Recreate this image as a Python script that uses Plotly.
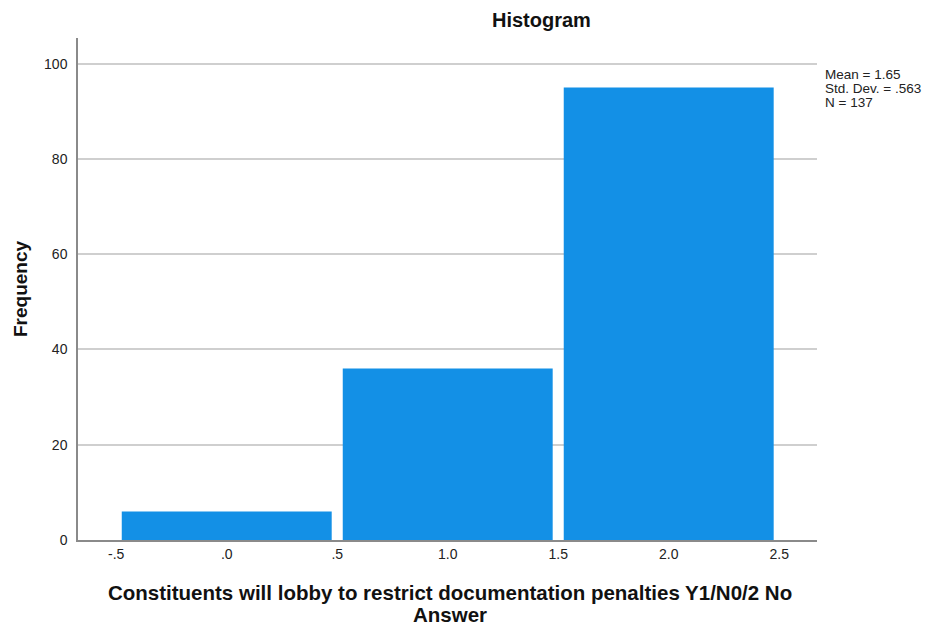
import plotly.graph_objects as go

# Response codes and their frequencies
categories = [0, 1, 2]
counts = [6, 36, 95]
x_tick_vals = [-0.5, 0.0, 0.5, 1.0, 1.5, 2.0, 2.5]
x_tick_text = ["-.5", ".0", ".5", "1.0", "1.5", "2.0", "2.5"]
y_tick_vals = [0, 20, 40, 60, 80, 100]
stats_lines = ["Mean = 1.65", "Std. Dev. = .563", "N = 137"]
x_title_lines = [
    "Constituents will lobby to restrict documentation penalties Y1/N0/2 No",
    "Answer",
]

FONT = "Liberation Sans, Arial, sans-serif"
W, H = 929, 626
L, R, T, B = 78, 112, 38, 86
PW, PH = W - L - R, H - T - B


def px_x(px):
    """Pixel column -> paper x."""
    return (px - L) / PW


def px_y(py):
    """Pixel row -> paper y."""
    return 1 - (py - T) / PH


fig = go.Figure(
    go.Bar(
        x=categories,
        y=counts,
        width=0.95,
        marker=dict(color="#1390e6", line=dict(width=0)),
        hoverinfo="x+y",
    )
)

annotations = [
    dict(
        text="<b>Histogram</b>",
        x=px_x(541), y=px_y(20), xref="paper", yref="paper",
        xanchor="center", yanchor="middle",
        showarrow=False, font=dict(size=20, color="#111"),
    ),
    dict(
        text="<b>Frequency</b>",
        x=px_x(20), y=px_y(289), xref="paper", yref="paper",
        xanchor="center", yanchor="middle", textangle=-90,
        showarrow=False, font=dict(size=19, color="#111"),
    ),
]

# Summary statistics block, one line per annotation
for i, line in enumerate(stats_lines):
    annotations.append(dict(
        text=line,
        x=px_x(823), y=px_y(74 + 14 * i), xref="paper", yref="paper",
        xanchor="left", yanchor="middle",
        showarrow=False, font=dict(size=13.5, color="#222"),
    ))

# Two-line x-axis title
for i, line in enumerate(x_title_lines):
    annotations.append(dict(
        text=f"<b>{line}</b>",
        x=px_x(450), y=px_y(592 + 22 * i), xref="paper", yref="paper",
        xanchor="center", yanchor="middle",
        showarrow=False, font=dict(size=20.5, color="#111"),
    ))

fig.update_layout(
    width=W,
    height=H,
    margin=dict(l=L, r=R, t=T, b=B),
    paper_bgcolor="white",
    plot_bgcolor="white",
    font=dict(family=FONT, size=14, color="#222"),
    showlegend=False,
    annotations=annotations,
)

fig.update_xaxes(
    range=[-0.673, 2.671],
    tickmode="array",
    tickvals=x_tick_vals,
    ticktext=x_tick_text,
    showgrid=False,
    zeroline=False,
    showline=True,
    linecolor="#8a8a8a",
    linewidth=1.5,
    ticks="",
    tickfont=dict(size=14, color="#222"),
)

fig.update_yaxes(
    range=[0, 105.4],
    tickmode="array",
    tickvals=y_tick_vals,
    showgrid=True,
    gridcolor="#cfcfcf",
    gridwidth=1.5,
    zeroline=False,
    showline=True,
    linecolor="#8a8a8a",
    linewidth=1.5,
    ticks="",
    ticklabelstandoff=6,
    tickfont=dict(size=14, color="#222"),
)

fig.write_html("out.html")
